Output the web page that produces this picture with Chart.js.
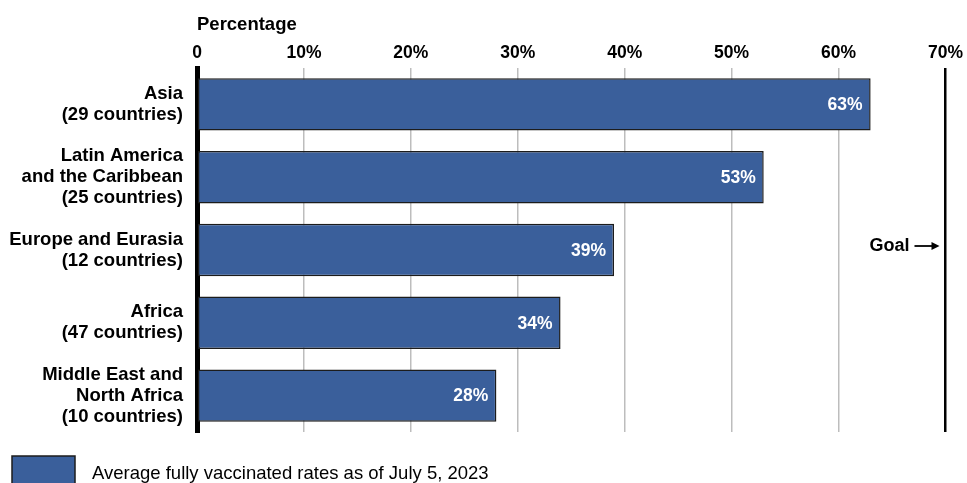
<!DOCTYPE html>
<html>
<head>
<meta charset="utf-8">
<script src="https://cdn.jsdelivr.net/npm/chart.js@4"></script>
<style>
  html, body { margin: 0; padding: 0; background: #fff; }
  canvas { display: block; }
</style>
</head>
<body>
<canvas id="chart" width="967" height="483"></canvas>
<script>
// Regions and their average fully vaccinated rate (%)
const REGIONS = [
  ['Asia', '(29 countries)'],
  ['Latin America', 'and the Caribbean', '(25 countries)'],
  ['Europe and Eurasia', '(12 countries)'],
  ['Africa', '(47 countries)'],
  ['Middle East and', 'North Africa', '(10 countries)'],
];
const RATES = [63, 53, 39, 34, 28];
const GOAL = 70;
const X_TICKS = [0, 10, 20, 30, 40, 50, 60, 70];
const LEGEND_LABEL = 'Average fully vaccinated rates as of July 5, 2023';

const FONT = '"Liberation Sans", Arial, sans-serif';
const BAR_COLOR = '#3a5f9b';

// white value labels inside the bar ends
const valueLabels = {
  id: 'valueLabels',
  afterDatasetsDraw(chart) {
    const { ctx } = chart;
    const meta = chart.getDatasetMeta(0);
    ctx.save();
    ctx.font = `bold 17.5px ${FONT}`;
    ctx.fillStyle = '#fff';
    ctx.textAlign = 'right';
    ctx.textBaseline = 'middle';
    meta.data.forEach((bar, i) => {
      ctx.fillText(RATES[i] + '%', bar.x - 8, bar.y + 1);
    });
    ctx.restore();
  }
};

// "Goal →" marker next to the 70% line
const goalLabel = {
  id: 'goalLabel',
  afterDraw(chart) {
    const { ctx, scales } = chart;
    const gx = scales.x.getPixelForValue(GOAL);
    const gy = scales.y.getPixelForValue(2) - 4;
    ctx.save();
    ctx.font = `bold 18px ${FONT}`;
    ctx.fillStyle = '#000';
    ctx.textAlign = 'right';
    ctx.textBaseline = 'middle';
    ctx.fillText('Goal', gx - 36, gy);
    ctx.strokeStyle = '#000';
    ctx.lineWidth = 1.8;
    ctx.beginPath();
    ctx.moveTo(gx - 31, gy);
    ctx.lineTo(gx - 12, gy);
    ctx.stroke();
    ctx.beginPath();
    ctx.moveTo(gx - 6, gy);
    ctx.lineTo(gx - 14, gy - 4);
    ctx.lineTo(gx - 14, gy + 4);
    ctx.closePath();
    ctx.fill();
    ctx.restore();
  }
};

// legend swatch + caption along the bottom edge
const bottomLegend = {
  id: 'bottomLegend',
  afterDraw(chart) {
    const { ctx } = chart;
    ctx.save();
    ctx.fillStyle = BAR_COLOR;
    ctx.fillRect(12, 456, 63, 40);
    ctx.strokeStyle = '#1c1c1c';
    ctx.lineWidth = 1.5;
    ctx.strokeRect(12, 456, 63, 40);
    ctx.font = `18.5px ${FONT}`;
    ctx.fillStyle = '#000';
    ctx.textAlign = 'left';
    ctx.textBaseline = 'middle';
    ctx.fillText(LEGEND_LABEL, 92, 474);
    ctx.restore();
  }
};

new Chart(document.getElementById('chart'), {
  type: 'bar',
  data: {
    labels: REGIONS,
    datasets: [{
      data: RATES,
      backgroundColor: BAR_COLOR,
      borderColor: '#1c1c1c',
      borderWidth: 1.5,
      borderSkipped: false,
      categoryPercentage: 1,
      barPercentage: 0.72,
    }]
  },
  options: {
    indexAxis: 'y',
    responsive: false,
    animation: false,
    layout: { padding: { top: 0, right: 20, bottom: 51, left: 0 } },
    plugins: {
      legend: { display: false },
      tooltip: { enabled: false },
    },
    scales: {
      x: {
        position: 'top',
        min: 0,
        max: GOAL,
        afterFit(scale) { scale.height = 68; },
        afterBuildTicks(scale) { scale.ticks = X_TICKS.map(v => ({ value: v })); },
        border: { display: false },
        grid: {
          drawTicks: false,
          color: ctx => ctx.tick && ctx.tick.value === GOAL ? '#000' : '#bdbdbd',
          lineWidth: ctx => ctx.tick && ctx.tick.value === GOAL ? 2.5 : 1.5,
        },
        ticks: {
          padding: 4,
          color: '#000',
          font: { family: FONT, size: 17.5, weight: 'bold' },
          callback: v => v === 0 ? '0' : v + '%',
        },
        title: {
          display: true,
          text: 'Percentage',
          align: 'start',
          color: '#000',
          font: { family: FONT, size: 18.5, weight: 'bold' },
          padding: { top: 14, bottom: 0 },
        },
      },
      y: {
        afterFit(scale) { scale.width = 197; },
        border: { display: true, color: '#000', width: 5 },
        grid: { display: false },
        ticks: {
          padding: 6,
          color: '#000',
          font: { family: FONT, size: 18.5, weight: 'bold', lineHeight: 1.14 },
        },
      },
    },
  },
  plugins: [valueLabels, goalLabel, bottomLegend],
});
</script>
</body>
</html>
